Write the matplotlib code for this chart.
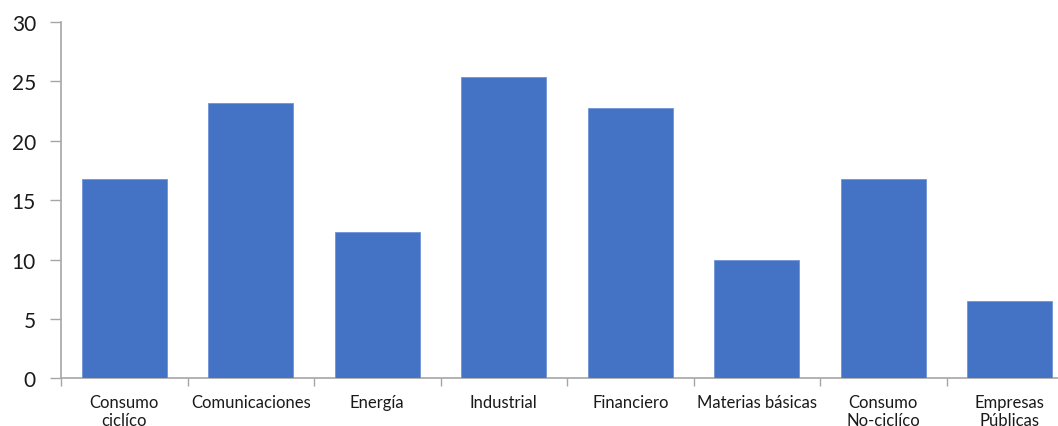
import matplotlib
matplotlib.use("Agg")
import matplotlib.pyplot as plt
import numpy as np

# Sector values
categories = ["Consumo\nciclíco", "Comunicaciones", "Energía", "Industrial",
              "Financiero", "Materias básicas", "Consumo\nNo-ciclíco", "Empresas\nPúblicas"]
values = [16.8, 23.2, 12.3, 25.4, 22.8, 10.0, 16.8, 6.5]
y_ticks = [0, 5, 10, 15, 20, 25, 30]

plt.rcParams["font.family"] = ["Lato", "DejaVu Sans"]

fig = plt.figure(figsize=(10.58, 4.27), dpi=100)
ax = fig.add_axes([61 / 1058, 1 - 379.3 / 427, 1012 / 1058, (379.3 - 23) / 427])

x = np.arange(len(categories))
ax.bar(x, values, width=0.67, color="#4472C4", edgecolor="#6f93d6", linewidth=0.6, zorder=3)

ax.set_xlim(-0.5, len(categories) - 0.5)
ax.set_ylim(0, 30)
ax.set_yticks(y_ticks)
ax.set_yticklabels([str(t) for t in y_ticks], fontsize=15, color="#1a1a1a")

# category labels centred under bars, ticks between categories
ax.set_xticks(x)
ax.set_xticklabels(categories, fontsize=12, color="#1a1a1a", linespacing=1.2, va="top")
ax.tick_params(axis="x", which="major", length=0, pad=11)
ax.set_xticks(np.arange(-0.5, len(categories) + 0.5, 1), minor=True)
ax.tick_params(axis="x", which="minor", length=6, width=1, color="#a6a6a6", direction="out")
ax.tick_params(axis="y", length=8, width=1, color="#a6a6a6", direction="out", pad=10)

for side in ["top", "right"]:
    ax.spines[side].set_visible(False)
for side in ["left", "bottom"]:
    ax.spines[side].set_color("#a6a6a6")
    ax.spines[side].set_linewidth(1.2)

fig.savefig("out.png", dpi=100)
